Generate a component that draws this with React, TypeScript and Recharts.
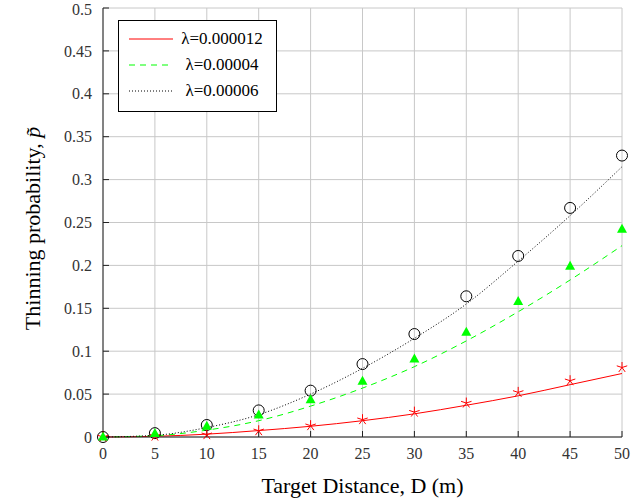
import {
  CartesianGrid,
  Line,
  LineChart,
  XAxis,
  YAxis,
} from "recharts";

// Target distance D (m)
const distances = [0, 5, 10, 15, 20, 25, 30, 35, 40, 45, 50];

// analytical curves
const theoryLow = [0, 0.0008, 0.0033, 0.0075, 0.0125, 0.019, 0.027, 0.037, 0.048, 0.061, 0.074];
const theoryMid = [0, 0.0015, 0.008, 0.019, 0.036, 0.057, 0.082, 0.112, 0.146, 0.183, 0.223];
const theoryHigh = [0, 0.002, 0.011, 0.026, 0.05, 0.08, 0.115, 0.155, 0.205, 0.258, 0.315];

// simulated points
const simLow = [0, 0.001, 0.0027, 0.0073, 0.0132, 0.0202, 0.029, 0.0396, 0.052, 0.0656, 0.081];
const simMid = [0, 0.004, 0.0125, 0.0255, 0.0435, 0.065, 0.091, 0.122, 0.158, 0.199, 0.242];
const simHigh = [0, 0.0045, 0.014, 0.031, 0.054, 0.085, 0.12, 0.164, 0.211, 0.267, 0.328];

const seriesNames = ["λ=0.000012", "λ=0.00004", "λ=0.00006"];

const xTicks = [0, 5, 10, 15, 20, 25, 30, 35, 40, 45, 50];
const yTicks = [0, 0.05, 0.1, 0.15, 0.2, 0.25, 0.3, 0.35, 0.4, 0.45, 0.5];

const RED = "#ff0000";
const GREEN = "#00ff00";
const BLACK = "#000000";

const chartData = distances.map((d, i) => ({
  d,
  low: theoryLow[i],
  mid: theoryMid[i],
  high: theoryHigh[i],
  lowSim: simLow[i],
  midSim: simMid[i],
  highSim: simHigh[i],
}));

const serif = "Liberation Serif";
const tickStyle = { fontFamily: serif, fontSize: 16, fill: "#333" };

// 5-arm star marker
const StarDot = (props: any) => {
  const { cx, cy } = props;
  if (cx == null || cy == null) return null;
  const r = 5.5;
  const arms = [0, 1, 2, 3, 4].map((k) => {
    const a = (-90 + 72 * k) * (Math.PI / 180);
    return (
      <line
        key={k}
        x1={cx}
        y1={cy}
        x2={cx + r * Math.cos(a)}
        y2={cy + r * Math.sin(a)}
        stroke={RED}
        strokeWidth={1}
      />
    );
  });
  return <g>{arms}</g>;
};

const TriangleDot = (props: any) => {
  const { cx, cy } = props;
  if (cx == null || cy == null) return null;
  return (
    <polygon
      points={`${cx},${cy - 5.5} ${cx - 5},${cy + 3.5} ${cx + 5},${cy + 3.5}`}
      fill={GREEN}
      stroke="none"
    />
  );
};

const CircleDot = (props: any) => {
  const { cx, cy } = props;
  if (cx == null || cy == null) return null;
  return <circle cx={cx} cy={cy} r={5.5} fill="none" stroke={BLACK} strokeWidth={1} />;
};

const legendRows = [
  { name: seriesNames[0], color: RED, dash: undefined },
  { name: seriesNames[1], color: GREEN, dash: "6 5" },
  { name: seriesNames[2], color: BLACK, dash: "1 2" },
];

// legend box, sits on top of the plot
const LegendBox = () => (
  <div
    style={{
      position: "absolute",
      left: 118,
      top: 20,
      width: 157,
      height: 85,
      border: "1px solid #000",
      background: "#fff",
      fontFamily: serif,
      fontSize: 17,
      paddingTop: 5,
    }}
  >
    {legendRows.map((row) => (
      <div key={row.name} style={{ display: "flex", alignItems: "center", height: 26 }}>
        <svg width={50} height={10} style={{ marginLeft: 8 }}>
          <line
            x1={2}
            y1={5}
            x2={46}
            y2={5}
            stroke={row.color}
            strokeWidth={1}
            strokeDasharray={row.dash}
          />
        </svg>
        <span style={{ width: 90, textAlign: "center", whiteSpace: "nowrap" }}>{row.name}</span>
      </div>
    ))}
  </div>
);

const YTitle = (props: any) => {
  const { viewBox } = props;
  const cy = viewBox.y + viewBox.height / 2 + 6;
  const cx = 32;
  return (
    <text
      x={cx}
      y={cy}
      transform={`rotate(-90, ${cx}, ${cy})`}
      textAnchor="middle"
      dominantBaseline="central"
      fontFamily={serif}
      fontSize={22}
      fill="#000"
    >
      Thinning probability,{" "}
      <tspan fontStyle="italic">p̃</tspan>
    </text>
  );
};

export default function App() {
  return (
    <div
      style={{
        position: "absolute",
        left: 0,
        top: 0,
        width: 631,
        height: 504,
        background: "#fff",
        fontFamily: serif,
      }}
    >
      <LineChart
        width={631}
        height={504}
        data={chartData}
        margin={{ top: 8, right: 9, left: 0, bottom: 7 }}
        style={{ fontFamily: serif }}
      >
        <CartesianGrid stroke="#c8c8c8" strokeWidth={1} />
        <XAxis
          dataKey="d"
          type="number"
          domain={[0, 50]}
          ticks={xTicks}
          height={60}
          stroke="#222"
          tickSize={-6}
          tickMargin={17}
          tick={tickStyle}
          label={{
            value: "Target Distance, D (m)",
            position: "insideBottom",
            offset: 4,
            style: { fontFamily: serif, fontSize: 22, fill: "#000" },
          }}
        />
        <XAxis
          xAxisId="top"
          orientation="top"
          type="number"
          domain={[0, 50]}
          ticks={xTicks}
          height={0}
          stroke="#222"
          tickSize={-6}
          tick={false}
        />
        <YAxis
          type="number"
          domain={[0, 0.5]}
          ticks={yTicks}
          width={103}
          stroke="#222"
          tickSize={-6}
          tickMargin={17}
          tick={tickStyle}
          label={<YTitle />}
        />
        <YAxis
          yAxisId="right"
          orientation="right"
          type="number"
          domain={[0, 0.5]}
          ticks={yTicks}
          width={0}
          stroke="#222"
          tickSize={-6}
          tick={false}
        />
        <Line
          dataKey="low"
          name={seriesNames[0]}
          type="monotone"
          stroke={RED}
          strokeWidth={1}
          dot={false}
          isAnimationActive={false}
        />
        <Line
          dataKey="mid"
          name={seriesNames[1]}
          type="monotone"
          stroke={GREEN}
          strokeWidth={1}
          strokeDasharray="6 5"
          dot={false}
          isAnimationActive={false}
        />
        <Line
          dataKey="high"
          name={seriesNames[2]}
          type="monotone"
          stroke={BLACK}
          strokeWidth={1}
          strokeDasharray="1 2"
          dot={false}
          isAnimationActive={false}
        />
        <Line
          dataKey="highSim"
          stroke="none"
          dot={<CircleDot />}
          activeDot={false}
          isAnimationActive={false}
        />
        <Line
          dataKey="lowSim"
          stroke="none"
          dot={<StarDot />}
          activeDot={false}
          isAnimationActive={false}
        />
        <Line
          dataKey="midSim"
          stroke="none"
          dot={<TriangleDot />}
          activeDot={false}
          isAnimationActive={false}
        />
      </LineChart>
      <LegendBox />
    </div>
  );
}
